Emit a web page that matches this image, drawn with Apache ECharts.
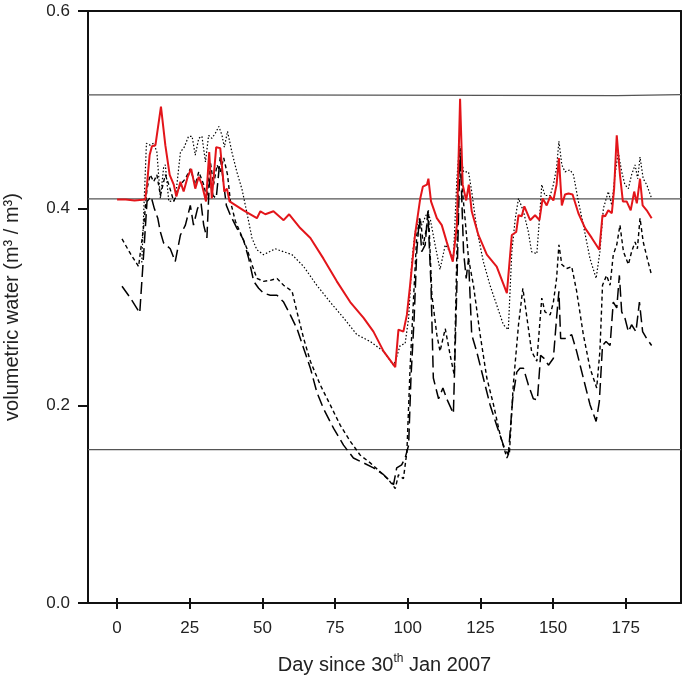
<!DOCTYPE html>
<html>
<head>
<meta charset="utf-8">
<script src="https://cdn.jsdelivr.net/npm/echarts@6/dist/echarts.min.js"></script>
<style>
html,body{margin:0;padding:0;background:#fff;}
#chart{width:684px;height:680px;}
</style>
</head>
<body>
<div id="chart"></div>
<script>
// ---- data (day, volumetric water) ----
const xTicks = [0, 25, 50, 75, 100, 125, 150, 175];
const yTicks = [0.0, 0.2, 0.4, 0.6];

const redSolid = [[0,0.409],[3,0.409],[6,0.408],[9.7,0.409],[10.3,0.424],[11.2,0.454],[12,0.463],[13.2,0.464],[15.1,0.503],[16.6,0.464],[18.1,0.434],[19.5,0.424],[20.4,0.412],[21.8,0.427],[22.9,0.417],[24.3,0.432],[25.5,0.440],[26.9,0.420],[28.1,0.432],[29.2,0.424],[30.6,0.407],[31.7,0.457],[32.6,0.410],[34.1,0.462],[35.5,0.461],[36.9,0.417],[37.8,0.420],[38.7,0.407],[43.5,0.398],[48.1,0.390],[49.3,0.397],[51,0.394],[53.8,0.397],[57.3,0.388],[59.2,0.394],[63,0.380],[66.5,0.370],[71,0.349],[75.6,0.326],[80.2,0.305],[84.8,0.289],[88.2,0.275],[91.7,0.255],[95.7,0.239],[96.8,0.277],[98.5,0.275],[99.7,0.292],[100.8,0.322],[102.5,0.373],[104.3,0.410],[105.2,0.422],[106.6,0.424],[107.1,0.430],[108,0.407],[110,0.390],[111.7,0.383],[113.4,0.366],[115.5,0.346],[116.9,0.383],[118,0.511],[118.9,0.424],[120.1,0.408],[121,0.424],[122,0.397],[124.3,0.373],[127.2,0.353],[130.6,0.341],[134.1,0.314],[135.8,0.373],[137.3,0.376],[138.1,0.393],[139.2,0.392],[140.1,0.402],[142.1,0.388],[143.8,0.393],[145.3,0.388],[146.4,0.410],[147.8,0.403],[149,0.412],[150.1,0.408],[151.2,0.424],[152,0.451],[153,0.403],[154.1,0.414],[155.3,0.415],[156.7,0.414],[158.7,0.395],[161,0.380],[163.3,0.370],[165.9,0.358],[167,0.393],[167.9,0.392],[169,0.398],[170.2,0.395],[171,0.420],[171.9,0.474],[173,0.434],[174,0.407],[175.3,0.407],[176.7,0.398],[177.9,0.417],[178.8,0.405],[179.9,0.430],[180.8,0.403],[182.2,0.398],[183.9,0.390]];

const dotted = [[8.5,0.345],[10.1,0.466],[11.4,0.464],[12.6,0.466],[13.7,0.457],[14.9,0.410],[16,0.441],[16.6,0.444],[17.8,0.407],[20,0.408],[21.8,0.457],[23.1,0.462],[24.6,0.473],[25.8,0.473],[26.9,0.454],[28.1,0.471],[29.2,0.473],[30.4,0.447],[31.5,0.474],[32.6,0.471],[33.8,0.476],[35,0.483],[36.1,0.474],[36.9,0.462],[38,0.478],[39.5,0.457],[41.2,0.437],[43,0.419],[44.7,0.395],[46.4,0.370],[48.1,0.358],[50.4,0.353],[54.4,0.359],[57.3,0.356],[60.2,0.353],[64.2,0.341],[68.7,0.322],[73.3,0.305],[77.9,0.289],[82.5,0.272],[87.1,0.265],[91.7,0.255],[95.1,0.241],[95.7,0.245],[97.4,0.261],[99.1,0.263],[100.3,0.289],[101.4,0.346],[102.5,0.376],[103.7,0.386],[104.8,0.383],[106.6,0.395],[107.7,0.390],[109.4,0.363],[111.1,0.338],[112.9,0.363],[114.6,0.356],[115.7,0.349],[116.9,0.430],[117.8,0.464],[119.2,0.437],[120.9,0.437],[122,0.417],[123.7,0.380],[126,0.346],[128.3,0.322],[130.6,0.302],[132.9,0.282],[134.6,0.277],[135.8,0.356],[137,0.390],[138.1,0.410],[139.8,0.397],[141.5,0.376],[142.6,0.356],[144.4,0.354],[145.5,0.397],[146.1,0.424],[147.2,0.413],[149,0.413],[150.1,0.424],[151.2,0.441],[152,0.468],[153,0.444],[154.1,0.437],[155.8,0.439],[157,0.434],[158.7,0.407],[160.4,0.383],[162.7,0.349],[164.8,0.329],[166.1,0.356],[167.3,0.400],[169,0.417],[170.2,0.403],[171.3,0.434],[172.4,0.457],[173.6,0.437],[174.7,0.424],[175.9,0.420],[177,0.434],[178.2,0.444],[179.1,0.430],[179.9,0.452],[181,0.430],[182.2,0.424],[183.9,0.410]];

const shortDashed = [[1.7,0.369],[4.6,0.354],[7.4,0.341],[9.2,0.383],[10.3,0.420],[11.4,0.434],[12.6,0.427],[13.7,0.434],[14.9,0.413],[16.6,0.434],[17.8,0.424],[19.5,0.407],[21.8,0.424],[23.5,0.430],[25.2,0.440],[26.9,0.424],[28.1,0.437],[29.8,0.424],[30.9,0.410],[32.1,0.447],[33.2,0.424],[34.4,0.444],[35.5,0.437],[36.7,0.451],[38,0.434],[39,0.407],[40.7,0.387],[43,0.371],[44.7,0.359],[46.4,0.343],[48.1,0.329],[50.4,0.326],[52.7,0.327],[55,0.329],[57.3,0.322],[60.2,0.316],[61.9,0.295],[64.2,0.268],[66.5,0.245],[69.9,0.221],[73.3,0.201],[76.8,0.180],[80.2,0.164],[83.6,0.150],[87.1,0.142],[90.5,0.133],[93.4,0.125],[95.7,0.116],[96.8,0.130],[98.5,0.126],[99.7,0.153],[100.8,0.238],[102,0.309],[103.1,0.373],[104.3,0.390],[105.4,0.363],[106.6,0.383],[107.1,0.398],[108.3,0.312],[110,0.272],[111.1,0.255],[112.9,0.278],[114.6,0.251],[116,0.231],[116.9,0.356],[117.8,0.454],[118.6,0.424],[119.7,0.390],[120.9,0.349],[122.6,0.322],[124.9,0.272],[127.2,0.228],[129.5,0.201],[131.8,0.170],[134.1,0.147],[135,0.153],[136.3,0.221],[138.1,0.282],[139.6,0.319],[141,0.289],[142.6,0.255],[144.4,0.245],[146.1,0.309],[147.2,0.295],[149,0.292],[150.1,0.305],[151.2,0.329],[152,0.363],[153,0.343],[154.7,0.339],[156.4,0.341],[158.1,0.316],[160.4,0.272],[162.7,0.238],[165,0.218],[166.1,0.255],[167,0.322],[168.4,0.332],[169.6,0.322],[170.7,0.353],[171.9,0.363],[173,0.383],[174.2,0.356],[175.9,0.343],[177,0.356],[178.2,0.366],[179,0.359],[179.9,0.390],[181,0.366],[182.4,0.349],[183.9,0.332]];

const longDashed = [[1.7,0.321],[4.6,0.309],[7.8,0.294],[9.2,0.356],[10.3,0.407],[11.7,0.412],[12.8,0.400],[14,0.390],[14.9,0.376],[16,0.365],[18.3,0.359],[20,0.346],[21.8,0.373],[23.5,0.383],[25.2,0.403],[26.3,0.383],[27.7,0.400],[28.9,0.405],[29.8,0.383],[30.9,0.370],[31.8,0.430],[33,0.413],[34.1,0.410],[35.5,0.452],[36.7,0.424],[37.6,0.403],[39,0.393],[41.2,0.380],[43.5,0.368],[45.3,0.349],[47,0.326],[48.7,0.319],[50.4,0.314],[52.7,0.312],[55,0.312],[57.3,0.305],[59.6,0.292],[61.9,0.278],[64.2,0.258],[66.5,0.238],[68.7,0.214],[71,0.197],[74.5,0.177],[77.9,0.160],[81.3,0.147],[84.8,0.142],[88.2,0.137],[91.7,0.130],[95.1,0.120],[96.2,0.137],[97.9,0.140],[99.1,0.147],[100.3,0.160],[101.1,0.228],[102.2,0.289],[103.1,0.356],[104,0.390],[104.8,0.356],[106,0.363],[106.9,0.397],[108,0.322],[108.8,0.228],[110.6,0.207],[112.1,0.218],[113.4,0.207],[115.7,0.192],[116.9,0.322],[118,0.461],[119.2,0.356],[120.1,0.329],[120.9,0.349],[122,0.272],[123.7,0.255],[126,0.228],[128.3,0.201],[130.6,0.180],[132.9,0.160],[134.6,0.150],[136.1,0.207],[137.5,0.234],[138.6,0.238],[139.8,0.238],[141.5,0.221],[143.2,0.207],[144.6,0.206],[145.7,0.251],[146.9,0.248],[148.4,0.241],[150.1,0.248],[151.2,0.289],[152,0.316],[152.6,0.268],[154.1,0.268],[156.4,0.272],[158.1,0.255],[160.4,0.228],[162.7,0.201],[164.8,0.184],[165.9,0.204],[167,0.261],[168.2,0.265],[169.6,0.261],[170.7,0.305],[171.9,0.299],[172.8,0.332],[173.6,0.295],[174.7,0.289],[175.9,0.275],[177,0.282],[178.5,0.275],[179.7,0.305],[180.8,0.275],[182.2,0.268],[183.9,0.261]];

// reference levels (horizontal grey lines)
const upperLevel = [[-10,0.5150],[40.6,0.5150],[40.6,0.5142],[172,0.5142],[172,0.5152],[194,0.5152]];
const middleLevel = [[-10,0.4095],[194,0.4095]];
const lowerLevel = [[-10,0.1555],[194,0.1555]];

const FONT = "'Liberation Sans', Arial, sans-serif";
const TICK_FS = 17;
const TITLE_FS = 20;
const chart = echarts.init(document.getElementById('chart'), null, {renderer: 'canvas'});

const gridBox = {left: 88, right: 3, top: 11, bottom: 77, containLabel: false, outerBoundsMode: 'none'};

chart.setOption({
  animation: false,
  backgroundColor: '#ffffff',
  grid: [gridBox, Object.assign({}, gridBox)],
  xAxis: [
    {
      type: 'value', gridIndex: 0, position: 'bottom', min: -10, max: 194,
      axisLine: {show: true, onZero: false, lineStyle: {color: '#111', width: 2}},
      axisTick: {show: true, inside: false, length: 6, lineStyle: {color: '#111', width: 2}, customValues: xTicks},
      axisLabel: {show: true, margin: 17, fontSize: TICK_FS, color: '#222', fontFamily: FONT, customValues: xTicks},
      splitLine: {show: false},
      name: '{a|Day since 30}{s|th}{a| Jan 2007}',
      nameLocation: 'middle', nameGap: 50,
      nameTextStyle: {
        fontSize: TITLE_FS, color: '#222', fontFamily: FONT,
        rich: {
          a: {fontSize: TITLE_FS, fontFamily: FONT, color: '#222', lineHeight: 24},
          s: {fontSize: 12, fontFamily: FONT, color: '#222', verticalAlign: 'top', lineHeight: 24}
        }
      }
    },
    {
      type: 'value', gridIndex: 0, position: 'top', min: -10, max: 194,
      axisLine: {show: true, onZero: false, lineStyle: {color: '#111', width: 2}},
      axisTick: {show: false}, axisLabel: {show: false}, splitLine: {show: false}
    },
    {
      type: 'value', gridIndex: 1, position: 'bottom', min: -10, max: 194,
      axisLine: {show: false, onZero: false},
      axisTick: {show: true, inside: true, length: 5, lineStyle: {color: '#111', width: 2}, customValues: xTicks},
      axisLabel: {show: false}, splitLine: {show: false}
    }
  ],
  yAxis: [
    {
      type: 'value', gridIndex: 0, position: 'left', min: 0, max: 0.6, interval: 0.2,
      axisLine: {show: true, onZero: false, lineStyle: {color: '#111', width: 2}},
      axisTick: {show: true, inside: false, length: 10, lineStyle: {color: '#111', width: 2}},
      axisLabel: {show: true, margin: 18, fontSize: TICK_FS, color: '#222', fontFamily: FONT,
        formatter: v => v.toFixed(1)},
      splitLine: {show: false},
      name: 'volumetric water (m³ / m³)',
      nameLocation: 'middle', nameGap: 66,
      nameTextStyle: {fontSize: TITLE_FS, color: '#222', fontFamily: FONT}
    },
    {
      type: 'value', gridIndex: 0, position: 'right', min: 0, max: 0.6,
      axisLine: {show: true, onZero: false, lineStyle: {color: '#111', width: 2}},
      axisTick: {show: false}, axisLabel: {show: false}, splitLine: {show: false}
    },
    {
      type: 'value', gridIndex: 1, min: 0, max: 0.6, show: false
    }
  ],
  series: [
    {type: 'line', name: 'upper', data: upperLevel, xAxisIndex: 0, yAxisIndex: 0, symbol: 'none', silent: true,
      lineStyle: {color: '#555', width: 1.2}, z: 1},
    {type: 'line', name: 'middle', data: middleLevel, xAxisIndex: 0, yAxisIndex: 0, symbol: 'none', silent: true,
      lineStyle: {color: '#555', width: 1.2}, z: 1},
    {type: 'line', name: 'lower', data: lowerLevel, xAxisIndex: 0, yAxisIndex: 0, symbol: 'none', silent: true,
      lineStyle: {color: '#555', width: 1.2}, z: 1},
    {type: 'line', name: 'long dashed', data: longDashed, xAxisIndex: 0, yAxisIndex: 0, symbol: 'none',
      lineStyle: {color: '#000', width: 1.5, type: [12, 5]}, z: 2},
    {type: 'line', name: 'short dashed', data: shortDashed, xAxisIndex: 0, yAxisIndex: 0, symbol: 'none',
      lineStyle: {color: '#000', width: 1.4, type: [4, 3]}, z: 3},
    {type: 'line', name: 'dotted', data: dotted, xAxisIndex: 0, yAxisIndex: 0, symbol: 'none',
      lineStyle: {color: '#000', width: 1.2, type: [1.5, 2]}, z: 4},
    {type: 'line', name: 'red', data: redSolid, xAxisIndex: 0, yAxisIndex: 0, symbol: 'none',
      lineStyle: {color: '#e3151a', width: 2}, z: 5}
  ]
});
</script>
</body>
</html>
